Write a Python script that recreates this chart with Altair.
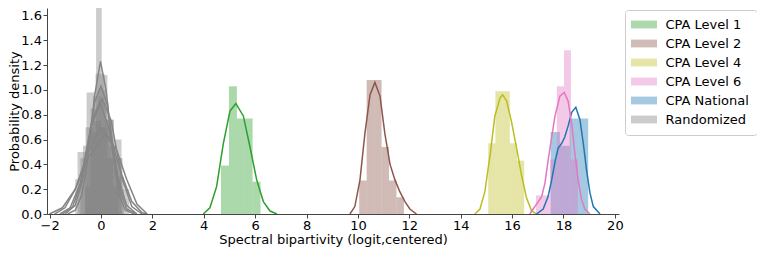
import altair as alt
import pandas as pd

groups = ["CPA Level 1", "CPA Level 2", "CPA Level 4", "CPA Level 6", "CPA National", "Randomized"]
colors = ["#2ca02c", "#8c564b", "#bcbd22", "#e377c2", "#1f77b4", "#7f7f7f"]

# ---- histogram bins (edges, densities) ----
l1_edges = [4.67, 4.98, 5.29, 5.60, 5.90, 6.21]
l1_heights = [0.39, 1.03, 0.77, 0.77, 0.26]

l2_edges = [10.05, 10.34, 10.63, 10.92, 11.21, 11.50, 11.79]
l2_heights = [0.27, 1.08, 1.08, 0.54, 0.27, 0.135]

l4_edges = [15.07, 15.35, 15.63, 15.91, 16.19, 16.47]
l4_heights = [0.57, 0.99, 0.99, 0.57, 0.43]

l6_edges = [16.93, 17.20, 17.47, 17.74, 18.02, 18.29, 18.56]
l6_heights = [0.15, 0.15, 0.44, 1.03, 1.32, 0.44]

nat_edges = [17.50, 17.86, 18.24, 18.60, 18.96]
nat_heights = [0.66, 0.55, 0.77, 0.77]

rand_edges = [
    [-0.63, -0.41, -0.19, 0.03, 0.25, 0.47, 0.69],
    [-0.91, -0.56, -0.21, 0.14, 0.49, 0.84],
    [-1.0, -0.7, -0.4, -0.1, 0.2, 0.5, 0.8, 1.1],
    [-0.8, -0.4, 0.0, 0.4, 0.8],
    [-0.6, -0.3, 0.0, 0.3, 0.6, 0.9],
]
rand_heights = [
    [0.22, 0.66, 1.71, 1.12, 0.45, 0.22],
    [0.50, 0.98, 1.13, 0.76, 0.45],
    [0.28, 0.55, 0.85, 1.00, 0.76, 0.60, 0.20],
    [0.45, 0.75, 0.70, 0.45],
    [0.70, 0.95, 0.90, 0.55, 0.30],
]

# ---- KDE curves ----
l1_kx = [3.98, 4.24, 4.50, 4.76, 5.02, 5.25, 5.54, 5.80, 6.06, 6.32, 6.58, 6.85]
l1_ky = [0.0, 0.05, 0.22, 0.565, 0.83, 0.89, 0.79, 0.54, 0.275, 0.10, 0.024, 0.0]

l2_kx = [9.69, 9.88, 10.08, 10.27, 10.47, 10.66, 10.86, 11.05, 11.25, 11.44, 11.63, 11.83, 12.02, 12.28]
l2_ky = [0.0, 0.06, 0.275, 0.645, 0.96, 1.06, 0.95, 0.645, 0.40, 0.275, 0.18, 0.10, 0.04, 0.0]

l4_kx = [14.55, 14.75, 14.94, 15.14, 15.33, 15.53, 15.63, 15.79, 15.98, 16.18, 16.37, 16.56, 16.76, 16.95]
l4_ky = [0.0, 0.04, 0.18, 0.47, 0.79, 0.935, 0.96, 0.91, 0.74, 0.525, 0.31, 0.13, 0.025, 0.0]

l6_kx = [16.69, 16.82, 17.02, 17.15, 17.28, 17.40, 17.54, 17.67, 17.86, 18.03, 18.18, 18.32, 18.44, 18.57, 18.70, 18.83, 19.03]
l6_ky = [0.0, 0.04, 0.10, 0.14, 0.25, 0.43, 0.62, 0.79, 0.95, 0.98, 0.91, 0.725, 0.49, 0.275, 0.12, 0.04, 0.0]

nat_kx = [16.95, 17.21, 17.40, 17.54, 17.67, 17.79, 17.93, 18.05, 18.18, 18.32, 18.48, 18.64, 18.77, 18.90, 19.03, 19.16, 19.42]
nat_ky = [0.0, 0.04, 0.14, 0.275, 0.42, 0.53, 0.57, 0.62, 0.71, 0.82, 0.86, 0.76, 0.57, 0.35, 0.17, 0.06, 0.0]

rand_kx = [
    [-1.3, -1.0, -0.75, -0.5, -0.25, -0.02, 0.2, 0.45, 0.7, 0.95, 1.3],
    [-1.4, -1.0, -0.75, -0.5, -0.25, 0.0, 0.25, 0.5, 0.75, 1.0, 1.4],
    [-1.6, -1.2, -0.8, -0.4, 0.05, 0.4, 0.8, 1.2, 1.6],
    [-1.8, -1.4, -1.0, -0.5, 0.0, 0.4, 0.8, 1.2, 1.6, 1.8],
    [-2.0, -1.5, -1.0, -0.5, 0.15, 0.6, 1.0, 1.4, 1.8],
    [-1.5, -1.1, -0.7, -0.35, -0.05, 0.3, 0.65, 1.0, 1.4],
]
rand_ky = [
    [0.0, 0.03, 0.15, 0.45, 0.95, 1.23, 1.0, 0.5, 0.15, 0.03, 0.0],
    [0.0, 0.07, 0.25, 0.55, 0.9, 1.03, 0.88, 0.5, 0.18, 0.04, 0.0],
    [0.0, 0.05, 0.25, 0.7, 0.93, 0.75, 0.3, 0.06, 0.0],
    [0.0, 0.05, 0.2, 0.5, 0.69, 0.6, 0.32, 0.1, 0.01, 0.0],
    [0.0, 0.05, 0.2, 0.45, 0.64, 0.52, 0.28, 0.08, 0.0],
    [0.0, 0.06, 0.3, 0.75, 0.9, 0.7, 0.3, 0.07, 0.0],
]

# ---- build tables ----
bar_rows = []
def add_bars(group, edges, heights):
    for i, h in enumerate(heights):
        bar_rows.append({"group": group, "x0": edges[i], "x1": edges[i + 1], "h": h, "zero": 0})

for e, h in zip(rand_edges, rand_heights):
    add_bars("Randomized", e, h)
add_bars("CPA Level 1", l1_edges, l1_heights)
add_bars("CPA Level 2", l2_edges, l2_heights)
add_bars("CPA Level 4", l4_edges, l4_heights)
add_bars("CPA National", nat_edges, nat_heights)
add_bars("CPA Level 6", l6_edges, l6_heights)
bars = pd.DataFrame(bar_rows)

line_rows = []
def add_curve(cid, color, xs, ys):
    for i, (x, y) in enumerate(zip(xs, ys)):
        line_rows.append({"curve": cid, "hex": color, "x": x, "y": y, "idx": i})

for k, (xs, ys) in enumerate(zip(rand_kx, rand_ky)):
    add_curve(f"rand{k}", "#858585", xs, ys)
add_curve("l1", colors[0], l1_kx, l1_ky)
add_curve("l2", colors[1], l2_kx, l2_ky)
add_curve("l4", colors[2], l4_kx, l4_ky)
add_curve("nat", colors[4], nat_kx, nat_ky)
add_curve("l6", colors[3], l6_kx, l6_ky)
lines = pd.DataFrame(line_rows)

xscale = alt.Scale(domain=[-2.10, 20.16], nice=False, zero=False)
yscale = alt.Scale(domain=[0, 1.66], nice=False)

y_ticks = [0, 0.2, 0.4, 0.6, 0.8, 1.0, 1.2, 1.4, 1.6]
x_ticks = list(range(-2, 21, 2))

xaxis = alt.Axis(values=x_ticks, format="d", title="Spectral bipartivity (logit,centered)",
                 tickSize=4, labelPadding=1, titlePadding=1, labelOverlap=False)
yaxis = alt.Axis(values=y_ticks, format=".1f", tickCount=9,
                 title="Probability density", tickSize=4, labelPadding=1.5, titlePadding=-1,
                 labelOverlap=False)

bar_layer = alt.Chart(bars).mark_rect(opacity=0.4, clip=True, strokeWidth=0).encode(
    x=alt.X("x0:Q", scale=xscale, axis=xaxis),
    x2="x1:Q",
    y=alt.Y("h:Q", scale=yscale, axis=yaxis),
    y2="zero:Q",
    color=alt.Color("group:N", scale=alt.Scale(domain=groups, range=colors),
                    legend=alt.Legend(title=None, orient="none", legendX=578, legendY=2,
                                      padding=8, rowPadding=5,
                                      symbolType="M-2,-0.6H2V0.6H-2Z", symbolSize=169,
                                      symbolOffset=4.5, labelOffset=15,
                                      symbolOpacity=0.4, symbolStrokeWidth=0,
                                      fillColor="white", strokeColor="#cccccc", cornerRadius=3,
                                      labelFontSize=13, labelFont="DejaVu Sans", labelColor="black")),
)

line_layer = alt.Chart(lines).mark_line(strokeWidth=1.5, clip=True).encode(
    x=alt.X("x:Q", scale=xscale, axis=xaxis),
    y=alt.Y("y:Q", scale=yscale, axis=yaxis),
    detail="curve:N",
    order="idx:Q",
    color=alt.Color("hex:N", scale=None),
)

chart = alt.layer(bar_layer, line_layer).resolve_scale(color="independent").properties(
    width=572, height=206,
    autosize=alt.AutoSizeParams(type="none"),
    padding={"left": 39, "top": 0, "right": 138, "bottom": 33},
).configure_view(stroke=None).configure_axis(
    grid=False, domainColor="#444444", tickColor="#444444", labelColor="black", titleColor="black",
    labelFont="DejaVu Sans", titleFont="DejaVu Sans", labelFontSize=13, titleFontSize=13,
    titleFontWeight="normal",
)

chart.save("out.html", embed_options={"renderer": "svg", "actions": False})
